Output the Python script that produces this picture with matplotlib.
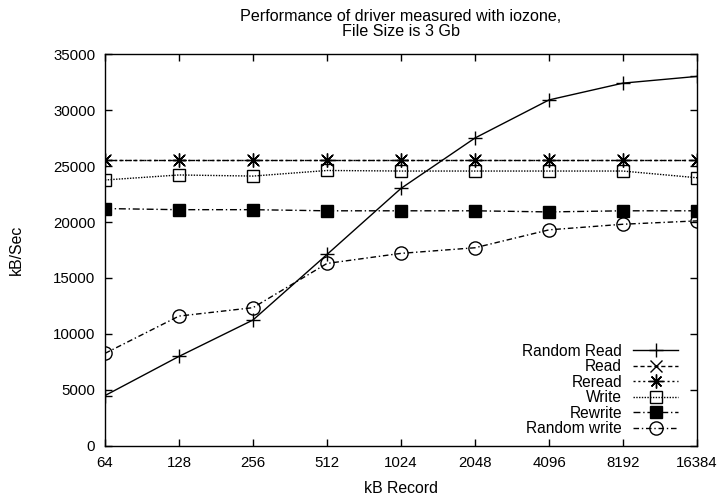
import matplotlib
matplotlib.use("Agg")
import matplotlib.pyplot as plt

plt.rcParams['font.family'] = ['Liberation Sans', 'DejaVu Sans']
plt.rcParams['font.size'] = 10.8

# record sizes (kB)
records = [64, 128, 256, 512, 1024, 2048, 4096, 8192, 16384]

# throughput in kB/sec
random_read = [4500, 8000, 11250, 17100, 23000, 27500, 30900, 32400, 33000]
read = [25500, 25500, 25500, 25500, 25500, 25500, 25500, 25500, 25500]
reread = [25500, 25500, 25500, 25500, 25500, 25500, 25500, 25500, 25500]
write = [23750, 24200, 24100, 24600, 24550, 24550, 24550, 24550, 23950]
rewrite = [21200, 21100, 21100, 21000, 21000, 21000, 20900, 21000, 21000]
random_write = [8270, 11600, 12350, 16300, 17200, 17700, 19300, 19800, 20100]

fig = plt.figure(figsize=(7.22, 4.95), dpi=100)
ax = fig.add_axes([0.1454, 0.0990, 0.8200, 0.7919])

ms = 10
ax.plot(records, random_read, color='black', lw=1, ls='-', marker='+', ms=ms, mew=1, label='Random Read')
ax.plot(records, read, color='black', lw=1, ls=(0, (3, 2)), marker='x', ms=ms * 0.9, mew=1, label='Read')
ax.plot(records, reread, color='black', lw=1, ls=(0, (1.5, 2)), marker=(8, 2, 0), ms=ms, mew=1, label='Reread')
ax.plot(records, write, color='black', lw=1, ls=(0, (1, 1)), marker='s', ms=ms * 0.85, mfc='none', mew=1, label='Write')
ax.plot(records, rewrite, color='black', lw=1, ls=(0, (5, 2, 1, 2)), marker='s', ms=ms * 0.85, mfc='black', mew=1, label='Rewrite')
ax.plot(records, random_write, color='black', lw=1, ls=(0, (4, 2, 1, 2)), marker='o', ms=ms * 0.95, mfc='none', mew=1, label='Random write')

ax.set_xscale('log', base=2)
ax.set_xlim(64, 16384)
ax.set_xticks(records)
ax.set_xticklabels([str(r) for r in records])
ax.minorticks_off()
ax.set_ylim(0, 35000)
ax.set_yticks(range(0, 35001, 5000))

ax.tick_params(direction='in', length=5, top=True, right=True, width=1)
ax.tick_params(axis='x', pad=7)
ax.tick_params(axis='y', pad=7)
for s in ax.spines.values():
    s.set_linewidth(1)

ax.set_xlabel('kB Record', labelpad=8, fontsize=11.4)
ax.set_ylabel('kB/Sec', labelpad=21, fontsize=11.4)
ax.set_title('Performance of driver measured with iozone,\nFile Size is 3 Gb', pad=13, linespacing=1.0, fontsize=11.6)

ax.legend(loc='lower right', bbox_to_anchor=(0.968, 0.025), frameon=False, markerfirst=False, fontsize=11.2,
          borderpad=0, borderaxespad=0, handlelength=2.9, handletextpad=0.7, labelspacing=0.03)

fig.savefig('out.png', dpi=100)
